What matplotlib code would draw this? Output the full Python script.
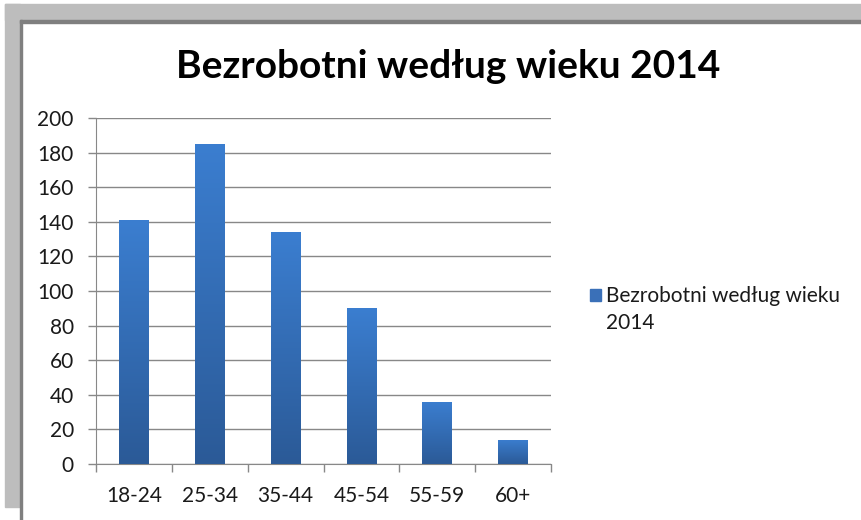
import numpy as np
import matplotlib
matplotlib.use("Agg")
import matplotlib.pyplot as plt
from matplotlib.patches import Rectangle
from matplotlib.colors import LinearSegmentedColormap

# data
categories = ['18-24', '25-34', '35-44', '45-54', '55-59', '60+']
values = [141, 185, 134, 90, 36, 14]
series_name = 'Bezrobotni według wieku 2014'
yticks = [0, 20, 40, 60, 80, 100, 120, 140, 160, 180, 200]

plt.rcParams['font.family'] = ['Lato', 'DejaVu Sans']

W, H = 862, 520
fig = plt.figure(figsize=(W / 100, H / 100), dpi=100)
fig.patch.set_facecolor('white')

# grey window frame of the screenshot (figure pixels)
def px_rect(x0, y0, x1, y1, color):
    fig.patches.append(Rectangle((x0 / W, 1 - y1 / H), (x1 - x0) / W, (y1 - y0) / H,
                                 transform=fig.transFigure, color=color, zorder=0))

px_rect(5, 4, W, 20, '#bdbdbd')
px_rect(5, 4, 20, 507, '#bdbdbd')
px_rect(20, 20, W, 22.5, '#7f7f7f')
px_rect(20, 20, 22.5, H, '#7f7f7f')

ax = fig.add_axes([96 / W, (H - 464) / H, (551 - 96) / W, (464 - 118) / H])
ax.set_facecolor('none')

x = np.arange(len(categories))
width = 0.39
bars = ax.bar(x, values, width=width, color='#3672bd', zorder=3)

# vertical gradient on each bar, like the Excel fill
cmap = LinearSegmentedColormap.from_list('bar', ['#2b5a97', '#3b7ed0'])
grad = np.linspace(0, 1, 256).reshape(-1, 1)
for b, xi, v in zip(bars, x, values):
    im = ax.imshow(grad, cmap=cmap, origin='lower', aspect='auto',
                   extent=(xi - width / 2, xi + width / 2, 0, v), zorder=4)
    im.set_clip_path(b)

ax.set_xlim(-0.5, len(categories) - 0.5)
ax.set_ylim(0, 200)
ax.set_yticks(yticks)
ax.set_yticklabels([str(t) for t in yticks])
ax.yaxis.grid(True, color='#888888', linewidth=1.0, zorder=0)
ax.set_axisbelow(True)

ax.set_xticks(x)
ax.set_xticklabels(categories)
ax.set_xticks(np.arange(len(categories) + 1) - 0.5, minor=True)
ax.tick_params(axis='x', which='major', length=0, pad=16, labelsize=15, colors='#1a1a1a')
ax.tick_params(axis='x', which='minor', length=6, width=1, color='#888888', direction='out')
ax.tick_params(axis='y', length=6, width=1, color='#888888', pad=10, labelsize=15,
               labelcolor='#1a1a1a')

for side in ['top', 'right']:
    ax.spines[side].set_visible(False)
ax.spines['left'].set_color('#888888')
ax.spines['bottom'].set_color('#888888')

fig.text(448 / W, 1 - 66 / H, series_name, ha='center', va='center',
         fontsize=28, fontweight='bold', color='black')

# legend: square key aligned with the first of two text lines
fig.patches.append(Rectangle((590 / W, 1 - 301 / H), 11 / W, 12 / H,
                             transform=fig.transFigure, color='#3a70b8'))
fig.text(606 / W, 1 - 286 / H, 'Bezrobotni według wieku\n2014', ha='left', va='top',
         fontsize=15, color='#1a1a1a', linespacing=1.45)

fig.savefig('out.png', dpi=100)
